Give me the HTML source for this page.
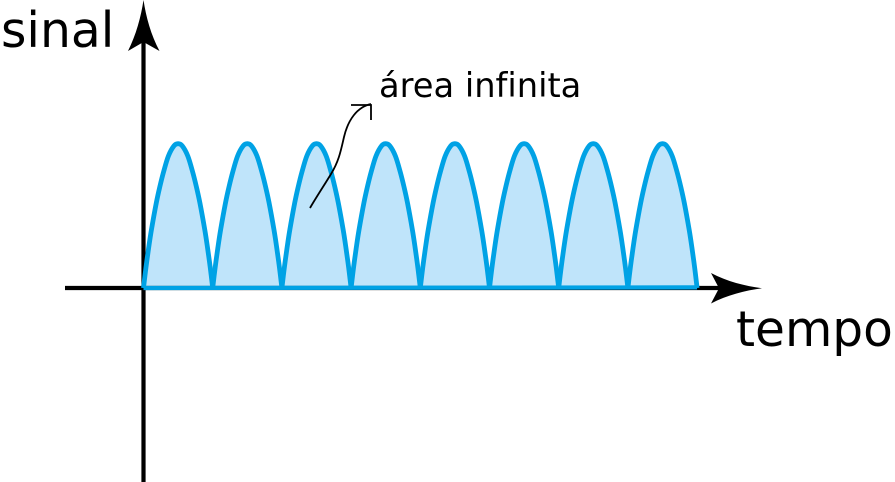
<!DOCTYPE html>
<html lang="pt">
<head>
<meta charset="utf-8">
<title>sinal</title>
<style>
html,body{margin:0;padding:0;background:#fff;}
svg{display:block;}
text{font-family:"DejaVu Sans","Liberation Sans",sans-serif;fill:#000;font-variant-ligatures:none;}
</style>
</head>
<body>
<svg id="chart" xmlns="http://www.w3.org/2000/svg" width="895" height="482" viewBox="0 0 895 482">
  <g id="lobes"></g>
  <line x1="143.5" y1="42" x2="143.5" y2="482" stroke="#000" stroke-width="4.200"/>
  <path d="M143.500 0 C146 17 151 35 159.500 51 L143.500 42 L128 51 C136 35 141 17 143.500 0 Z" fill="#000"/>
  <line x1="65" y1="288" x2="722" y2="288" stroke="#000" stroke-width="4.200"/>
  <path d="M762 288.200 C745 290.500 727 295 711 303.500 L719 288.200 L711 273 C727 281.500 745 286 762 288.200 Z" fill="#000"/>
  <g id="lobes-outline"></g>
  <path d="M310 208 C317 196 325 184 331 174 C339 161 341 150 344 137 C348 120 357 107 371 104" fill="none" stroke="#000" stroke-width="1.800"/>
  <path d="M351 105 H371 V120" fill="none" stroke="#000" stroke-width="1.800"/>
  <text x="1" y="47" font-size="48.800">sinal</text>
  <text x="736" y="346" font-size="48.600">tempo</text>
  <text x="379" y="97" font-size="33.700">área infinita</text>
</svg>
<script>
// Values: time in periods, signal in units of peak height.
const lobeTimes = [0, 0.035, 0.075, 0.115, 0.185, 0.235, 0.29, 0.36, 0.44, 0.5, 0.56, 0.64, 0.71, 0.765, 0.815, 0.885, 0.925, 0.965, 1];
const lobeShape = [0, 0.14, 0.28, 0.405, 0.59, 0.7, 0.805, 0.915, 0.985, 1, 0.985, 0.915, 0.805, 0.7, 0.59, 0.405, 0.28, 0.14, 0];
const lobePeaks = [1, 1, 1, 1, 1, 1, 1, 1];

const svgNS = 'http://www.w3.org/2000/svg';
const xScale = t => 143.5 + 69.2 * t;
const yScale = v => 288 - 144.300 * v;

function lobePath(index) {
  const pts = lobeTimes.map((t, i) => [xScale(index + t), yScale(lobeShape[i] * lobePeaks[index])]);
  let d = 'M' + pts[0][0].toFixed(2) + ' ' + pts[0][1].toFixed(2);
  for (let i = 0; i < pts.length - 1; i++) {
    const p0 = pts[Math.max(i - 1, 0)];
    const p1 = pts[i];
    const p2 = pts[i + 1];
    const p3 = pts[Math.min(i + 2, pts.length - 1)];
    const c1x = p1[0] + (p2[0] - p0[0]) / 6;
    const c1y = p1[1] + (p2[1] - p0[1]) / 6;
    const c2x = p2[0] - (p3[0] - p1[0]) / 6;
    const c2y = p2[1] - (p3[1] - p1[1]) / 6;
    d += ' C' + c1x.toFixed(2) + ' ' + c1y.toFixed(2) + ' ' + c2x.toFixed(2) + ' ' + c2y.toFixed(2) + ' ' + p2[0].toFixed(2) + ' ' + p2[1].toFixed(2);
  }
  return d;
}

const fillGroup = document.getElementById('lobes');
const outlineGroup = document.getElementById('lobes-outline');
lobePeaks.forEach((peak, i) => {
  const d = lobePath(i);
  const area = document.createElementNS(svgNS, 'path');
  area.setAttribute('d', d + ' Z');
  area.setAttribute('fill', '#bfe4fa');
  
  
  fillGroup.appendChild(area);
  const line = document.createElementNS(svgNS, 'path');
  line.setAttribute('d', d);
  line.setAttribute('fill', 'none');
  line.setAttribute('stroke', '#00a2e5');
  line.setAttribute('stroke-width', '4.800');
  line.setAttribute('stroke-linejoin', 'round');
  
  
  outlineGroup.appendChild(line);
});
const baseline = document.createElementNS(svgNS, 'line');
baseline.setAttribute('x1', xScale(0));
baseline.setAttribute('y1', yScale(0));
baseline.setAttribute('x2', xScale(lobePeaks.length));
baseline.setAttribute('y2', yScale(0) - 0.6);
baseline.setAttribute('stroke', '#00a2e5');
baseline.setAttribute('stroke-width', '4.300');


outlineGroup.appendChild(baseline);
</script>
</body>
</html>
